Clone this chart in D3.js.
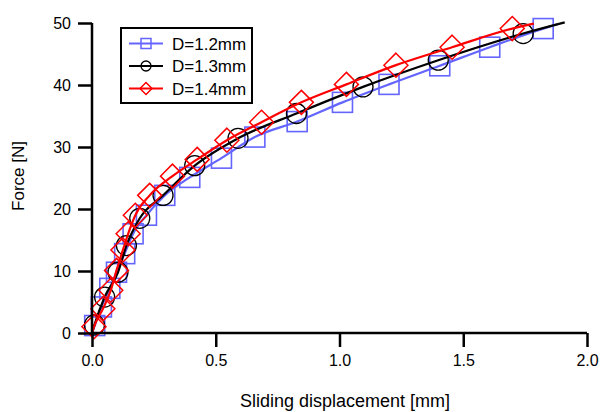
<!DOCTYPE html>
<html>
<head>
<meta charset="utf-8">
<script src="https://d3js.org/d3.v7.min.js"></script>
<style>
  body { margin: 0; background: #fff; }
  text { font-family: "Liberation Sans", Arial, sans-serif; fill: #000; }
</style>
</head>
<body>
<div id="chart"></div>
<script>
// Marker points (x = displacement mm, y = force N)
var d12x = [0.011, 0.038, 0.072, 0.099, 0.132, 0.166, 0.22, 0.294, 0.395, 0.523, 0.658, 0.829, 1.012, 1.200, 1.405, 1.607, 1.823];
var d12y = [1.2, 4.2, 7.2, 9.8, 12.8, 16.0, 19.0, 22.2, 25.1, 28.2, 31.6, 34.1, 37.2, 40.1, 43.1, 46.1, 49.1];
var d13x = [0.01, 0.051, 0.105, 0.139, 0.193, 0.287, 0.415, 0.59, 0.826, 1.095, 1.399, 1.742];
var d13y = [1.3, 5.8, 9.8, 14.1, 18.5, 22.2, 27.0, 31.4, 35.4, 39.7, 44.0, 48.3];
var d14x = [0.008, 0.044, 0.076, 0.099, 0.125, 0.146, 0.175, 0.233, 0.325, 0.425, 0.545, 0.685, 0.846, 1.028, 1.228, 1.455, 1.698];
var d14y = [1.0, 3.9, 6.9, 10.1, 13.4, 16.0, 19.0, 22.2, 25.3, 28.0, 31.1, 34.0, 37.2, 40.1, 43.2, 46.1, 49.1];
// where each curve ends (no marker there)
var endX = [1.88, 1.91, 1.785];
var endY = [49.8, 50.1, 49.9];

var names = ["D=1.2mm", "D=1.3mm", "D=1.4mm"];
var colors = ["#6464ff", "#000000", "#ff0000"];
var xTicks = [0, 0.5, 1.0, 1.5, 2.0];
var yTicks = [0, 10, 20, 30, 40, 50];

var margin = {top: 23, right: 13, bottom: 79, left: 92},
    width = 600 - margin.left - margin.right,
    height = 412 - margin.top - margin.bottom;

var svg = d3.select("#chart").append("svg")
    .attr("width", 600)
    .attr("height", 412)
  .append("g")
    .attr("transform", "translate(" + margin.left + "," + margin.top + ")");

var x = d3.scaleLinear().domain([0, 2]).range([0, width]);
var y = d3.scaleLinear().domain([0, 50]).range([height, 0]);

var series = [
  {xs: d12x, ys: d12y, shape: "square"},
  {xs: d13x, ys: d13y, shape: "circle"},
  {xs: d14x, ys: d14y, shape: "diamond"}
];

var line = d3.line()
    .x(function(d) { return x(d[0]); })
    .y(function(d) { return y(d[1]); })
    .curve(d3.curveMonotoneX);

function marker(g, shape, cx, cy, color) {
  if (shape == "square") {
    g.append("rect").attr("x", cx - 10).attr("y", cy - 10)
      .attr("width", 20).attr("height", 20)
      .attr("fill", "none").attr("stroke", color).attr("stroke-width", 1.6);
  } else if (shape == "circle") {
    g.append("circle").attr("cx", cx).attr("cy", cy).attr("r", 10)
      .attr("fill", "none").attr("stroke", color).attr("stroke-width", 1.3);
  } else {
    var r = 12;
    g.append("path")
      .attr("d", "M" + cx + "," + (cy - r) + "L" + (cx + r) + "," + cy + "L" + cx + "," + (cy + r) + "L" + (cx - r) + "," + cy + "Z")
      .attr("fill", "none").attr("stroke", color).attr("stroke-width", 1.5);
  }
}

series.forEach(function(s, i) {
  var pts = [[0, 0]];
  s.xs.forEach(function(v, j) { pts.push([v, s.ys[j]]); });
  pts.push([endX[i], endY[i]]);

  svg.append("path")
      .attr("d", line(pts))
      .attr("fill", "none")
      .attr("stroke", colors[i])
      .attr("stroke-width", 2.2);

  var g = svg.append("g");
  s.xs.forEach(function(v, j) {
    marker(g, s.shape, x(v), y(s.ys[j]), colors[i]);
  });
});

// Axes
var xAxis = svg.append("g")
    .attr("transform", "translate(0," + height + ")")
    .call(d3.axisBottom(x).tickValues(xTicks).tickFormat(d3.format(".1f")).tickSize(14).tickPadding(8));
var yAxis = svg.append("g")
    .call(d3.axisLeft(y).tickValues(yTicks).tickSize(14).tickPadding(7));

[xAxis, yAxis].forEach(function(a) {
  a.select(".domain").attr("stroke", "#000").attr("stroke-width", 2.5);
  a.selectAll(".tick line").attr("stroke", "#000").attr("stroke-width", 2.5);
  a.selectAll("text").style("font-size", "16px").attr("fill", "#000")
    .style("font-family", "'Liberation Sans', Arial, sans-serif");
});
xAxis.select(".domain").attr("d", "M0,0H" + width);
yAxis.select(".domain").attr("d", "M0," + height + "V0");

// Axis titles
svg.append("text")
    .attr("x", 253)
    .attr("y", height + 74)
    .style("text-anchor", "middle")
    .style("font-size", "18px")
    .text("Sliding displacement [mm]");

svg.append("text")
    .attr("transform", "rotate(-90)")
    .attr("x", -(176 - margin.top))
    .attr("y", -68)
    .style("text-anchor", "middle")
    .style("font-size", "17px")
    .text("Force [N]");

// Legend
var lg = svg.append("g").attr("transform", "translate(" + (121 - margin.left) + "," + (28 - margin.top) + ")");
lg.append("rect")
    .attr("width", 131).attr("height", 75)
    .attr("fill", "#fff").attr("stroke", "#000").attr("stroke-width", 2);

series.forEach(function(s, i) {
  var ly = 15.5 + i * 22.5;
  lg.append("line").attr("x1", 8).attr("x2", 42).attr("y1", ly).attr("y2", ly)
    .attr("stroke", colors[i]).attr("stroke-width", 2);
  var mg = lg.append("g");
  if (s.shape == "square") {
    mg.append("rect").attr("x", 20).attr("y", ly - 5).attr("width", 10).attr("height", 10)
      .attr("fill", "none").attr("stroke", colors[i]).attr("stroke-width", 1.5);
  } else if (s.shape == "circle") {
    mg.append("circle").attr("cx", 25).attr("cy", ly).attr("r", 5)
      .attr("fill", "none").attr("stroke", colors[i]).attr("stroke-width", 1.3);
  } else {
    mg.append("path").attr("d", "M25," + (ly - 6) + "L31," + ly + "L25," + (ly + 6) + "L19," + ly + "Z")
      .attr("fill", "none").attr("stroke", colors[i]).attr("stroke-width", 1.5);
  }
  lg.append("text").attr("x", 51).attr("y", ly + 6)
    .style("font-size", "17px")
    .text(names[i]);
});
</script>
</body>
</html>
